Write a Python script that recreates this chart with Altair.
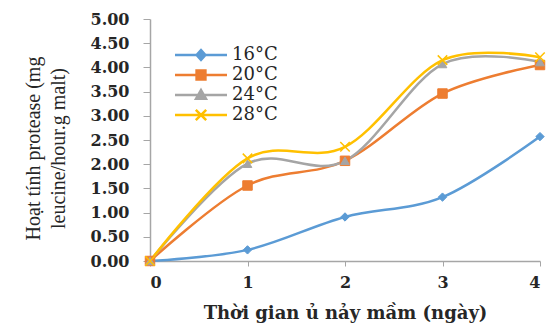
import altair as alt
import pandas as pd

days = [0, 1, 2, 3, 4]
series_names = ["16°C", "20°C", "24°C", "28°C"]
v16 = [0.0, 0.23, 0.91, 1.32, 2.57]
v20 = [0.0, 1.56, 2.07, 3.46, 4.05]
v24 = [0.0, 2.01, 2.07, 4.07, 4.11]
v28 = [0.0, 2.12, 2.36, 4.15, 4.21]
colors = ["#5B9BD5", "#ED7D31", "#A5A5A5", "#FFC000"]
y_title_lines = ["Hoạt tính protease (mg", "leucine/hour.g malt)"]
x_title = "Thời gian ủ nảy mầm  (ngày)"
y_ticks = [0, 0.5, 1, 1.5, 2, 2.5, 3, 3.5, 4, 4.5, 5]

rows = []
for name, vals in zip(series_names, [v16, v20, v24, v28]):
    for d, v in zip(days, vals):
        rows.append({"day": d, "value": v, "series": name})
df = pd.DataFrame(rows)

XPATH = "M-1,-1L1,1M-1,1L1,-1"
marker_shapes = ["diamond", "square", "triangle-up", XPATH]
marker_sizes = [70, 90, 75, 90]

K = 5.2  # legend symbol path units (symbol size 100 -> 5 px per unit)


def f(v):
    return f"{v * K:.3f}"


def nested(points_fn, scales=(1.0, 0.6, 0.25)):
    return "".join(points_fn(s) for s in scales)


def diamond(s):
    return f"M0,{f(-0.19*s)}L{f(0.17*s)},0L0,{f(0.19*s)}L{f(-0.17*s)},0Z"


def square(s):
    a = 0.17 * s
    return f"M{f(-a)},{f(-a)}H{f(a)}V{f(a)}H{f(-a)}Z"


def tri(s):
    return f"M0,{f(-0.19*s)}L{f(0.19*s)},{f(0.14*s)}H{f(-0.19*s)}Z"


LINE = f"M{f(-1)},0H{f(1)}"
leg_paths = [
    LINE + nested(diamond),
    LINE + nested(square),
    LINE + nested(tri),
    LINE + f"M{f(-0.2)},{f(-0.2)}L{f(0.2)},{f(0.2)}M{f(-0.2)},{f(0.2)}L{f(0.2)},{f(-0.2)}",
]

legend = alt.Legend(
    title=None,
    orient="none",
    legendX=21,
    legendY=27,
    symbolSize=100,
    symbolStrokeWidth=2.5,
    symbolOffset=21,
    labelOffset=22,
    labelFont="DejaVu Serif",
    labelFontSize=18,
    labelColor="#262626",
    rowPadding=0,
    padding=0,
    symbolOpacity=1,
)

color_scale = alt.Scale(domain=series_names, range=colors)
y_scale = alt.Scale(domain=[0, 5], nice=False)

x = alt.X(
    "day:Q",
    scale=alt.Scale(domain=[0, 4], nice=False),
    axis=alt.Axis(
        values=days,
        format="d",
        title=x_title,
        titleFont="DejaVu Serif",
        titleFontSize=18,
        titleFontWeight="bold",
        titleColor="#262626",
        titlePadding=14,
        labelFont="DejaVu Serif",
        labelFontSize=16,
        labelFontWeight="bold",
        labelColor="#262626",
        labelPadding=8,
        tickSize=5,
        tickColor="#A6A6A6",
        domainColor="#A6A6A6",
        domainWidth=1.5,
        grid=False,
    ),
)

# main y axis: ticks, labels and the second title line
y_main = alt.Y(
    "value:Q",
    scale=y_scale,
    axis=alt.Axis(
        orient="left",
        values=y_ticks,
        format=".2f",
        title=y_title_lines[1],
        titleFont="Liberation Serif",
        titleFontSize=20,
        titleFontWeight="normal",
        titleColor="#262626",
        titlePadding=22,
        titleY=129,
        labelFont="DejaVu Serif",
        labelFontSize=16,
        labelFontWeight="bold",
        labelColor="#262626",
        labelPadding=14,
        tickSize=7,
        tickColor="#A6A6A6",
        domainColor="#A6A6A6",
        domainWidth=1.5,
        grid=False,
    ),
)
# bare y axis that only carries the first title line
y_title_axis = alt.Y(
    "value:Q",
    scale=y_scale,
    axis=alt.Axis(
        orient="left",
        values=y_ticks,
        title=y_title_lines[0],
        titleFont="Liberation Serif",
        titleFontSize=20,
        titleFontWeight="normal",
        titleColor="#262626",
        titlePadding=107,
        titleY=129,
        labels=False,
        ticks=False,
        domain=False,
        grid=False,
    ),
)
y_none = alt.Y("value:Q", scale=y_scale, axis=None)

# layer without rows that only drives the legend and the first title line
legend_layer = (
    alt.Chart(df)
    .transform_filter("false")
    .mark_point(filled=False, strokeWidth=2.5)
    .encode(
        x=x,
        y=y_title_axis,
        color=alt.Color("series:N", scale=color_scale, legend=legend),
        shape=alt.Shape("series:N", scale=alt.Scale(domain=series_names, range=leg_paths), legend=legend),
    )
)

lines = alt.Chart(df).mark_line(interpolate="cardinal", strokeWidth=2.5).encode(
    x=x, y=y_main, color=alt.Color("series:N", scale=color_scale, legend=legend)
)

layers = [legend_layer, lines]
for name, shp, sz, col in zip(series_names, marker_shapes, marker_sizes, colors):
    filled = shp != XPATH
    layers.append(
        alt.Chart(df)
        .transform_filter(alt.datum.series == name)
        .mark_point(shape=shp, size=sz, filled=filled, stroke=col, strokeWidth=1 if filled else 1.5, opacity=1)
        .encode(x=x, y=y_none, color=alt.Color("series:N", scale=color_scale, legend=legend))
    )

chart = (
    alt.layer(*layers)
    .resolve_axis(y="independent")
    .properties(
        width=390,
        height=242,
        autosize=alt.AutoSizeParams(type="none"),
        padding={"left": 150, "top": 19, "right": 9, "bottom": 63},
        background="white",
    )
    .configure_view(stroke=None)
)

chart.save("out.html", embed_options={"renderer": "svg", "actions": False})
